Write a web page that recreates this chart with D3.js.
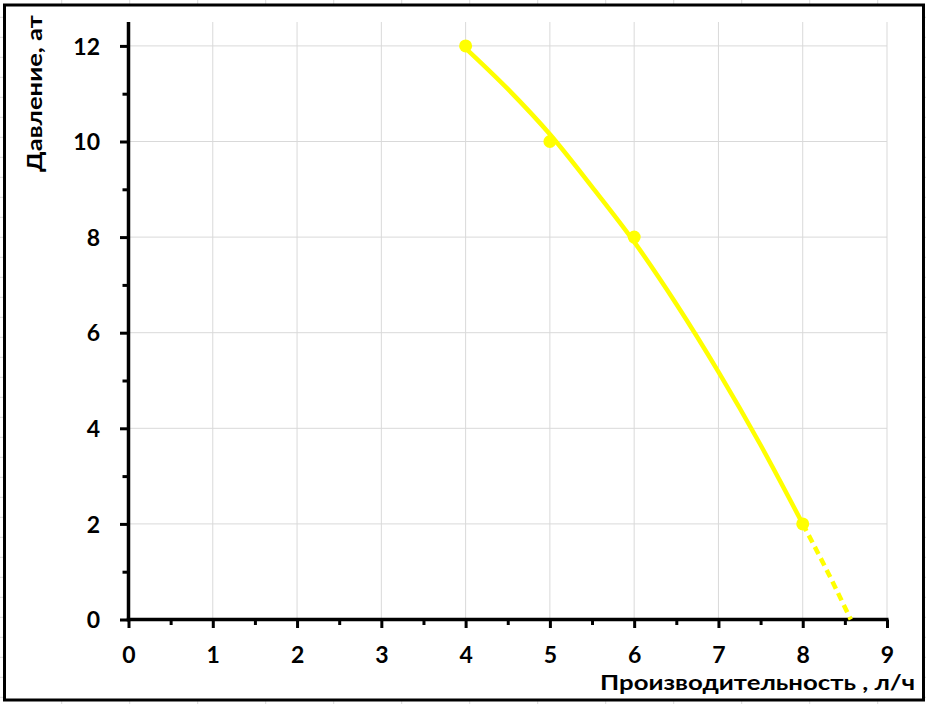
<!DOCTYPE html>
<html>
<head>
<meta charset="utf-8">
<script src="https://cdn.jsdelivr.net/npm/d3@7/dist/d3.min.js"></script>
<style>
html,body{margin:0;padding:0;background:#fff;}
svg{display:block;}
text{font-family:Lato,"Open Sans",sans-serif;font-weight:bold;fill:#000;}
</style>
</head>
<body>
<svg id="chart" width="926" height="704"></svg>
<script>
// ---- data ----
const markerX = [4, 5, 6, 8];
const markerY = [12, 10, 8, 2];
// solid trend curve
const curveX = [4, 4.5, 5, 5.5, 6, 6.5, 7, 7.5, 8];
const curveY = [11.95, 11.1, 10.15, 9.05, 7.9, 6.6, 5.18, 3.65, 2.0];
// dashed extension
const dashX = [8, 8.3, 8.57];
const dashY = [2.0, 0.98, 0];
const xTicks = [0, 1, 2, 3, 4, 5, 6, 7, 8, 9];
const yTicks = [0, 2, 4, 6, 8, 10, 12];
const xMinor = [0.5, 1.5, 2.5, 3.5, 4.5, 5.5, 6.5, 7.5, 8.5];
const yMinor = [1, 3, 5, 7, 9, 11];
const xTitle = "Производительность , л/ч";
const yTitle = "Давление, ат";

const svg = d3.select("#chart");
const W = 926, H = 704;

// faint spreadsheet cell grid outside the chart frame
const bg = svg.append("g");
const colXs = d3.range(61.7 - 68 , W + 68, 68);
const rowYs = d3.range(17.3, H + 20, 20);
bg.selectAll("line.c").data(colXs).join("line")
  .attr("x1", d => d).attr("x2", d => d).attr("y1", 0).attr("y2", H)
  .attr("stroke", "#dadada").attr("stroke-width", 1);
bg.selectAll("line.r").data(rowYs).join("line")
  .attr("y1", d => d).attr("y2", d => d).attr("x1", 0).attr("x2", W)
  .attr("stroke", "#dadada").attr("stroke-width", 1);

// chart frame
svg.append("rect").attr("x", 4.5).attr("y", 5).attr("width", 919).attr("height", 695)
  .attr("fill", "#fff").attr("stroke", "#000").attr("stroke-width", 3);

const x = d3.scaleLinear().domain([0, 9]).range([128.5, 887]);
const y = d3.scaleLinear().domain([0, 12.5]).range([619.5, 22]);

// gridlines
const grid = svg.append("g");
grid.selectAll("line.h").data(yTicks.filter(d => d > 0)).join("line")
  .attr("x1", x(0)).attr("x2", x(9)).attr("y1", d => y(d)).attr("y2", d => y(d))
  .attr("stroke", "#d9d9d9").attr("stroke-width", 1);
grid.selectAll("line.v").data(xTicks.filter(d => d > 0)).join("line")
  .attr("x1", d => x(d)).attr("x2", d => x(d)).attr("y1", y(12.5)).attr("y2", y(0))
  .attr("stroke", "#d9d9d9").attr("stroke-width", 1);

// axes via d3 axis generators
const fs = 23;
const xAxis = svg.append("g").attr("transform", `translate(0,${y(0)})`)
  .call(d3.axisBottom(x).tickValues(xTicks).tickSize(8.5).tickPadding(18).tickFormat(d3.format("d")));
const xAxisMinor = svg.append("g").attr("transform", `translate(0,${y(0)})`)
  .call(d3.axisBottom(x).tickValues(xMinor).tickSize(5.5).tickFormat(""));
const yAxis = svg.append("g").attr("transform", `translate(${x(0)},0)`)
  .call(d3.axisLeft(y).tickValues(yTicks).tickSize(8.5).tickPadding(20).tickFormat(d3.format("d")));
const yAxisMinor = svg.append("g").attr("transform", `translate(${x(0)},0)`)
  .call(d3.axisLeft(y).tickValues(yMinor).tickSize(6).tickFormat(""));

[xAxis, xAxisMinor, yAxis, yAxisMinor].forEach(g => {
  g.select(".domain").remove();
  g.selectAll(".tick line").attr("stroke", "#000").attr("stroke-width", 3);
  g.selectAll(".tick text").attr("font-size", fs).attr("font-family", "Lato, 'Open Sans', sans-serif").attr("font-weight", "bold").attr("fill", "#000");
});
xAxis.selectAll(".tick text").attr("dy", null).attr("y", 663 - y(0));
yAxis.selectAll(".tick text").attr("dy", (0.36 * fs) + "px");

// axis lines
svg.append("line").attr("x1", x(0)).attr("x2", x(0)).attr("y1", y(12.5)).attr("y2", y(0) + 1.75)
  .attr("stroke", "#000").attr("stroke-width", 3.5);
svg.append("line").attr("x1", x(0) - 1.75).attr("x2", x(9) + 1.5).attr("y1", y(0)).attr("y2", y(0))
  .attr("stroke", "#000").attr("stroke-width", 3.5);

// series
const line = d3.line().x(d => x(d[0])).y(d => y(d[1])).curve(d3.curveMonotoneX);
svg.append("path").datum(curveX.map((v, i) => [v, curveY[i]]))
  .attr("d", line).attr("fill", "none").attr("stroke", "#ffff00")
  .attr("stroke-width", 4.5).attr("stroke-linecap", "round");
svg.append("path").datum(dashX.map((v, i) => [v, dashY[i]]))
  .attr("d", line).attr("fill", "none").attr("stroke", "#ffff00")
  .attr("stroke-width", 4.5).attr("stroke-dasharray", "8,5");
svg.selectAll("circle.m").data(markerX.map((v, i) => [v, markerY[i]])).join("circle")
  .attr("cx", d => x(d[0])).attr("cy", d => y(d[1])).attr("r", 6.5)
  .attr("fill", "#ffff00");

// titles
svg.append("text").attr("x", 600).attr("y", 690)
  .attr("font-family", "'Open Sans', sans-serif")
  .attr("font-size", 20).attr("textLength", 315).attr("lengthAdjust", "spacingAndGlyphs")
  .text(xTitle);
svg.append("text").attr("transform", "translate(42,172) rotate(-90)")
  .attr("font-family", "'Open Sans', sans-serif")
  .attr("font-size", 21).attr("textLength", 157).attr("lengthAdjust", "spacingAndGlyphs")
  .text(yTitle);
</script>
</body>
</html>
